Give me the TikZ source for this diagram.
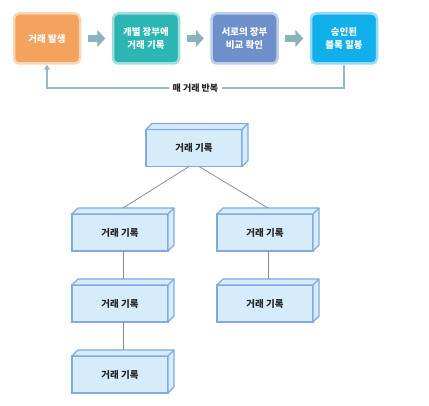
\documentclass[tikz,border=0pt]{standalone}
\usepackage{fontspec}
\setmainfont{Noto Sans CJK KR}
\usetikzlibrary{arrows.meta}

\definecolor{naranja}{HTML}{F3A35E}
\definecolor{turquesa}{HTML}{2BB6B4}
\definecolor{lavanda}{HTML}{6E8FCB}
\definecolor{celeste}{HTML}{12B0EA}
\definecolor{flecha}{HTML}{8BB3BC}
\definecolor{caja}{HTML}{D6ECFA}
\definecolor{borde}{HTML}{84A9DD}

\tikzset{
  paso/.style={rounded corners=5pt, minimum width=66pt, minimum height=50pt,
    line width=2.5pt, text=white, align=center, inner sep=0pt,
    font=\bfseries\fontsize{9.5}{13.5}\selectfont},
  bloque/.style={draw=borde, fill=caja, line width=1.1pt, minimum width=96pt,
    minimum height=37pt, inner sep=0pt, outer sep=0pt, text=black!85,
    font=\bfseries\fontsize{9.5}{11}\selectfont},
  cara/.style={draw=borde, fill=caja, line width=1.1pt, line join=round},
  rama/.style={draw=gray!90, line width=0.8pt},
  avance/.style={flecha, line width=7pt, -{Triangle[length=8pt, width=17pt]},
    shorten <=6.5pt, shorten >=6.5pt},
  retorno/.style={flecha!90, line width=1.8pt, -{Triangle[length=5pt, width=6pt]}},
}

\begin{document}
\begin{tikzpicture}[x=1pt, y=-1pt]
  \useasboundingbox (0,0) rectangle (429,406);

  % --- Fila de pasos ---
  \node[paso, fill=naranja,  draw=naranja!45]  (genera)   at (47,38.5)  {거래 발생};
  \node[paso, fill=turquesa, draw=turquesa!45] (registra) at (146,38.5) {개별 장부에\\거래 기록};
  \node[paso, fill=lavanda,  draw=lavanda!45]  (compara)  at (244.5,38.5) {서로의 장부\\비교 확인};
  \node[paso, fill=celeste,  draw=celeste!45]  (sella)    at (344,38.5) {승인된\\블록 밀봉};

  % --- Flechas entre pasos ---
  \draw[avance] (genera) -- (registra);
  \draw[avance] (registra) -- (compara);
  \draw[avance] (compara) -- (sella);

  % --- Vuelta al inicio ---
  \coordinate (nivel) at (0,88);
  \coordinate (esqder) at (sella.south |- nivel);
  \coordinate (esqizq) at (genera.south |- nivel);
  \draw[retorno] (sella.south) -- (esqder)
    -- node[fill=white, inner sep=4pt, text=black!85,
             font=\bfseries\fontsize{9}{10}\selectfont] {매 거래 반복} (esqizq)
    -- (genera.south);

  % --- Arbol de bloques ---
  \node[bloque] (raiz) at (194,148)   {거래 기록};
  \node[bloque] (izq)  at (120,232.5) {거래 기록};
  \node[bloque] (der)  at (265,232.5) {거래 기록};
  \node[bloque] (izqb) at (120,303.5) {거래 기록};
  \node[bloque] (derb) at (265,303.5) {거래 기록};
  \node[bloque] (izqc) at (120,374.5) {거래 기록};

  % --- Caras superior y lateral ---
  \foreach \n in {raiz,izq,der,izqb,derb,izqc} {
    \draw[cara] (\n.north west) -- ++(6,-6) -- ([shift={(6,-6)}]\n.north east)
      -- ([shift={(6,-6)}]\n.south east) -- (\n.south east) -- (\n.north east) -- cycle;
    \draw[cara] (\n.north east) -- ++(6,-6);
  }

  % --- Ramas ---
  \draw[rama] ([xshift=-5]raiz.south) -- ([shift={(3,-6)}]izq.north);
  \draw[rama] ([xshift=5]raiz.south)  -- ([shift={(3,-6)}]der.north);
  \draw[rama] ([xshift=3]izq.south)   -- ([shift={(3,-6)}]izqb.north);
  \draw[rama] ([xshift=3]izqb.south)  -- ([shift={(3,-6)}]izqc.north);
  \draw[rama] ([xshift=3]der.south)   -- ([shift={(3,-6)}]derb.north);

\end{tikzpicture}
\end{document}
